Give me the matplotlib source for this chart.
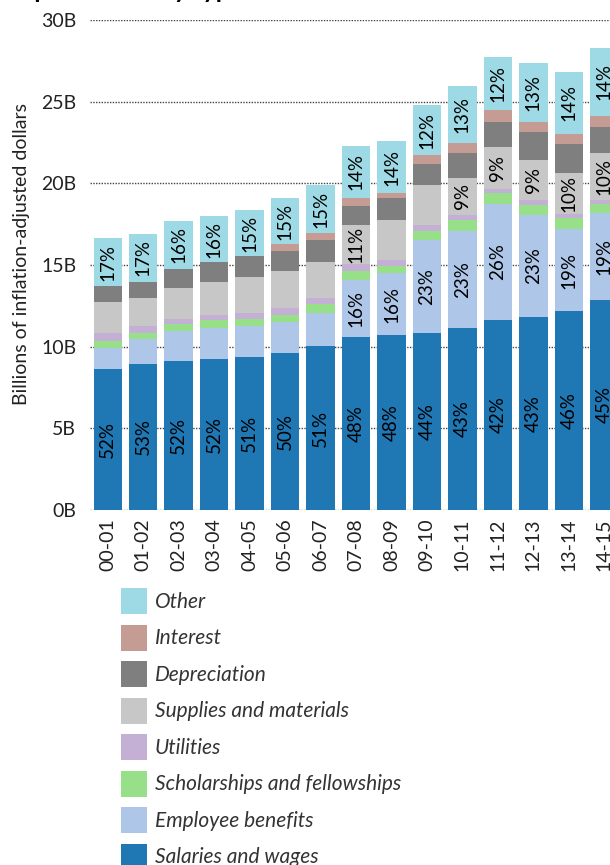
import numpy as np
import matplotlib
matplotlib.use("Agg")
import matplotlib.pyplot as plt
from matplotlib.patches import Patch

plt.rcParams['font.family'] = ['Lato', 'DejaVu Sans']

years = ['00-01', '01-02', '02-03', '03-04', '04-05', '05-06', '06-07', '07-08',
         '08-09', '09-10', '10-11', '11-12', '12-13', '13-14', '14-15']

# billions of inflation-adjusted dollars
salaries = [8.63, 8.94, 9.12, 9.24, 9.37, 9.61, 10.04, 10.59, 10.71, 10.84, 11.14, 11.63, 11.82, 12.18, 12.86]
benefits = [1.31, 1.51, 1.82, 1.90, 1.90, 1.90, 2.02, 3.49, 3.80, 5.69, 5.94, 7.10, 6.24, 5.02, 5.32]
scholarships = [0.39, 0.37, 0.45, 0.49, 0.42, 0.41, 0.55, 0.55, 0.43, 0.55, 0.68, 0.66, 0.61, 0.68, 0.55]
utilities = [0.51, 0.45, 0.30, 0.31, 0.37, 0.45, 0.37, 0.43, 0.37, 0.37, 0.30, 0.26, 0.31, 0.24, 0.25]
supplies = [1.89, 1.71, 1.90, 2.02, 2.21, 2.26, 2.20, 2.39, 2.45, 2.45, 2.27, 2.57, 2.45, 2.51, 2.88]
depreciation = [0.98, 0.98, 1.17, 1.22, 1.28, 1.23, 1.35, 1.16, 1.34, 1.28, 1.53, 1.54, 1.71, 1.78, 1.59]
interest = [0, 0, 0, 0, 0, 0.43, 0.43, 0.49, 0.31, 0.55, 0.61, 0.73, 0.62, 0.61, 0.67]
other = [2.94, 2.94, 2.93, 2.82, 2.82, 2.81, 2.94, 3.19, 3.18, 3.07, 3.49, 3.24, 3.61, 3.80, 4.17]

# percent labels shown inside the bars
sal_lbl = ['52%', '53%', '52%', '52%', '51%', '50%', '51%', '48%', '48%', '44%', '43%', '42%', '43%', '46%', '45%']
ben_lbl = ['', '', '', '', '', '', '', '16%', '16%', '23%', '23%', '26%', '23%', '19%', '19%']
sup_lbl = ['', '', '', '', '', '', '', '11%', '', '', '9%', '9%', '9%', '10%', '10%']
oth_lbl = ['17%', '17%', '16%', '16%', '15%', '15%', '15%', '14%', '14%', '12%', '13%', '12%', '13%', '14%', '14%']

series = [
    ('Salaries and wages', salaries, '#1f77b4', sal_lbl),
    ('Employee benefits', benefits, '#aec7e8', ben_lbl),
    ('Scholarships and fellowships', scholarships, '#98df8a', None),
    ('Utilities', utilities, '#c5b0d5', None),
    ('Supplies and materials', supplies, '#c7c7c7', sup_lbl),
    ('Depreciation', depreciation, '#7f7f7f', None),
    ('Interest', interest, '#c49c94', None),
    ('Other', other, '#9edae5', oth_lbl),
]

fig = plt.figure(figsize=(6.1, 8.65), dpi=100)
ax = fig.add_axes([90 / 610, 1 - 510 / 865, 532 / 610, 490 / 865])

x = np.arange(len(years))
bottom = np.zeros(len(years))
for name, vals, color, lbls in series:
    vals = np.array(vals)
    ax.bar(x, vals, 0.8, bottom=bottom, color=color, zorder=2)
    if lbls:
        for i, t in enumerate(lbls):
            if t:
                ax.text(x[i], bottom[i] + vals[i] / 2, t, rotation=90, ha='center',
                        va='center', fontsize=13.5, color='black', zorder=3)
    bottom += vals

ax.set_xlim(-0.5, len(years) - 0.5)
ax.set_ylim(0, 30)
ax.set_yticks(range(0, 31, 5))
ax.set_yticklabels([f'{v}B' for v in range(0, 31, 5)])
ax.set_xticks(x)
ax.set_xticklabels(years, rotation=90)
ax.tick_params(length=0, labelsize=14, colors='#222222')
ax.tick_params(axis='y', pad=10)
ax.tick_params(axis='x', pad=6)
for s in ax.spines.values():
    s.set_visible(False)
ax.yaxis.grid(True, linestyle=(0, (1, 1)), color='#444444', linewidth=1)
ax.set_axisbelow(True)
ax.set_ylabel('Billions of inflation-adjusted dollars', fontsize=14, color='#222222')
ax.yaxis.set_label_coords(-0.112, 0.522)

# title sits above the crop, only its descenders show
fig.text(7 / 610, 1 + 2 / 865, 'Expenditures by type', fontsize=18, fontweight='bold',
         va='baseline', ha='left')

handles = [Patch(facecolor=c, label=n) for n, v, c, l in reversed(series)]
fs = 15
px = fs * 100 / 72
hh = (26 / px - 0.245) / 0.65
fig.legend(handles=handles, loc='upper left', bbox_to_anchor=(121 / 610, 1 - 588 / 865),
           frameon=False, borderpad=0, borderaxespad=0,
           handlelength=26 / px, handleheight=hh, labelspacing=(36.5 - 26) / px,
           handletextpad=8 / px, prop={'style': 'italic', 'size': fs})
for t in fig.legends[0].get_texts():
    t.set_color('#333333')

fig.savefig('out.png', dpi=100)
